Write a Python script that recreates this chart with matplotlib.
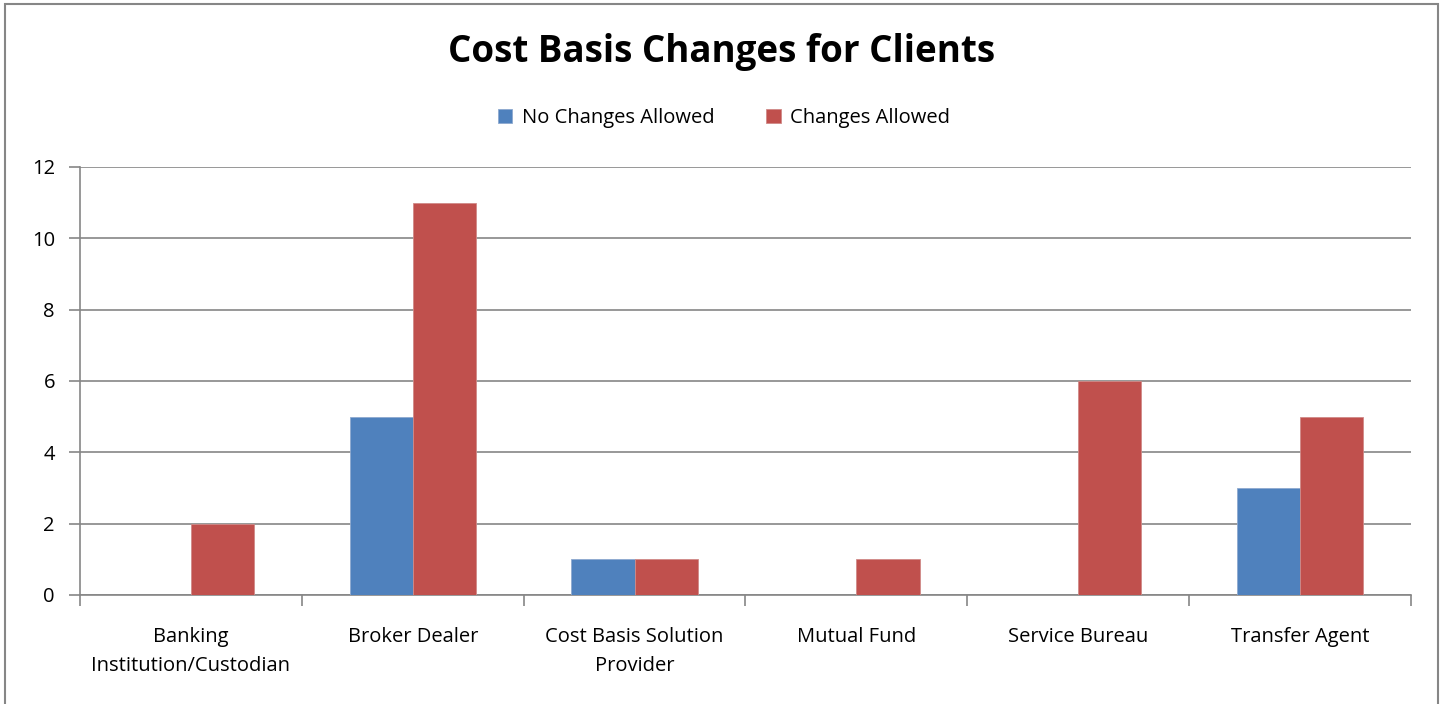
import numpy as np
import matplotlib
matplotlib.use('Agg')
import matplotlib.pyplot as plt
from matplotlib.patches import Rectangle

categories = ['Banking\nInstitution/Custodian', 'Broker Dealer', 'Cost Basis Solution\nProvider',
              'Mutual Fund', 'Service Bureau', 'Transfer Agent']
no_changes = [0, 5, 1, 0, 0, 3]
changes = [2, 11, 1, 1, 6, 5]
yticks = [0, 2, 4, 6, 8, 10, 12]

plt.rcParams['font.family'] = ['Open Sans', 'DejaVu Sans']

W, H = 1443, 704
fig = plt.figure(figsize=(W / 100, H / 100), dpi=100)
ax = fig.add_axes([80 / W, 1 - 595 / H, (1411 - 80) / W, (595 - 167) / H])

x = np.arange(len(categories))
bw = 0.285
blue = '#4F81BD'
red = '#C0504D'
ax.bar(x - bw / 2, no_changes, bw, color=blue, edgecolor='#8EA9CF', linewidth=0.6,
       label='No Changes Allowed', zorder=3)
ax.bar(x + bw / 2, changes, bw, color=red, edgecolor='#D08A88', linewidth=0.6,
       label='Changes Allowed', zorder=3)

grid_c = '#868686'
ax.set_xlim(-0.5, len(categories) - 0.5)
ax.set_ylim(0, 12)
ax.set_yticks(yticks)
ax.tick_params(axis='y', length=8, width=1.2, color=grid_c, labelsize=14.5, pad=10)
ax.yaxis.grid(True, color=grid_c, linewidth=1.2, zorder=0)
ax.set_xticks(np.arange(-0.5, len(categories), 1.0))
ax.set_xticklabels([])
ax.tick_params(axis='x', length=8, width=1.2, color=grid_c)
ax.set_xticks(x, minor=True)
ax.set_xticklabels(categories, minor=True, fontsize=14.5, linespacing=1.6)
ax.tick_params(axis='x', which='minor', length=0, pad=23)
for s in ['top', 'right']:
    ax.spines[s].set_visible(False)
for s in ['left', 'bottom']:
    ax.spines[s].set_color(grid_c)
    ax.spines[s].set_linewidth(1.2)

fig.text(0.5, 1 - 52 / H, 'Cost Basis Changes for Clients', ha='center', va='center',
         fontsize=26.5, fontweight='bold')
fig.legend(loc='center', bbox_to_anchor=(724 / W, 1 - 118 / H), ncol=2, frameon=False,
           fontsize=14.5, handlelength=0.72, handleheight=0.72, columnspacing=2.6,
           handletextpad=0.45)

fig.patches.append(Rectangle((5 / W, -0.1), (1438 - 5) / W, 1.1 - 4 / H,
                             transform=fig.transFigure, fill=False,
                             edgecolor='#868686', linewidth=1.5))

fig.savefig('out.png', dpi=100)
